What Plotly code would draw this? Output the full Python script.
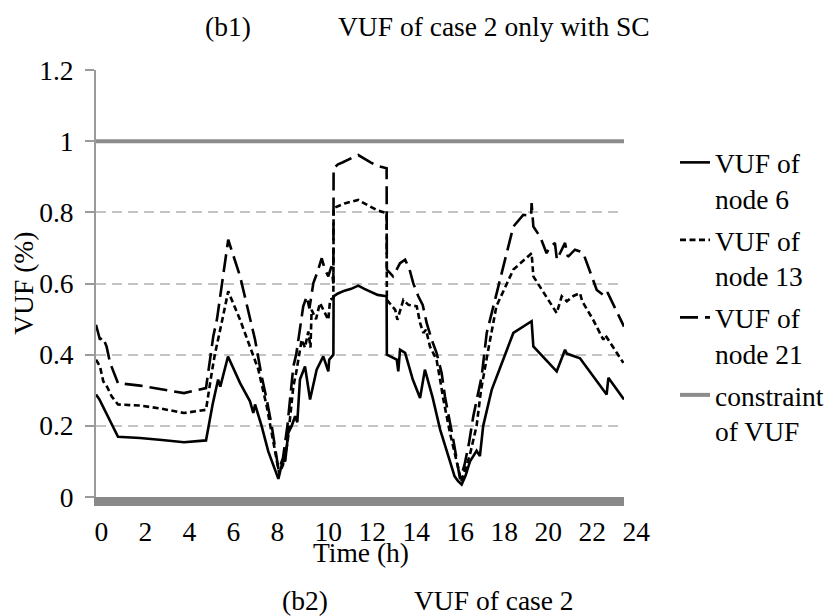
import plotly.graph_objects as go

# ---------------- data ----------------
node6_time = [0, 0.15, 1, 2, 3, 4, 5, 5.3, 5.55, 5.65, 6.0, 6.55, 7.0, 7.15, 7.23, 7.53, 7.83, 8.05,
              8.29, 8.4, 8.51, 8.6, 8.74, 8.89, 9.05, 9.15, 9.27, 9.5, 9.73, 10.03, 10.33, 10.56,
              10.6, 10.79, 10.8, 11.0, 11.3, 11.6, 11.92, 12.2, 12.5, 12.8, 13.21, 13.22, 13.67,
              13.74, 13.82, 14.05, 14.4, 14.73, 14.95, 15.3, 15.64, 15.9, 16.1, 16.3, 16.45, 16.62,
              16.8, 17.0, 17.3, 17.45, 17.6, 17.99, 18.97, 19.8, 19.88, 20.94, 21.32, 21.4, 22.0,
              23.21, 23.29, 24.0]
node6_vuf = [0.288, 0.275, 0.169, 0.166, 0.160, 0.154, 0.159, 0.26, 0.33, 0.31, 0.395, 0.32, 0.269,
             0.236, 0.26, 0.199, 0.128, 0.09, 0.051, 0.08, 0.105, 0.1, 0.18, 0.199, 0.227, 0.21,
             0.33, 0.367, 0.274, 0.358, 0.395, 0.353, 0.386, 0.4, 0.564, 0.572, 0.58, 0.585, 0.594,
             0.585, 0.576, 0.568, 0.564, 0.4, 0.386, 0.353, 0.414, 0.405, 0.33, 0.278, 0.358, 0.28,
             0.19, 0.14, 0.1, 0.058, 0.045, 0.035, 0.06, 0.1, 0.13, 0.115, 0.2, 0.302, 0.461, 0.494,
             0.423, 0.353, 0.414, 0.403, 0.39, 0.288, 0.335, 0.274]

node13_time = [0, 0.18, 0.33, 0.5, 0.71, 1, 2, 3, 4, 5, 5.26, 5.4, 5.71, 6.01, 6.55, 7.08, 7.38,
               7.76, 8.0, 8.2, 8.33, 8.5, 8.7, 8.97, 9.1, 9.35, 9.5, 9.65, 9.75, 9.8, 10.0, 10.18,
               10.4, 10.56, 10.64, 10.79, 10.8, 11.0, 11.3, 11.6, 11.92, 12.2, 12.5, 12.8, 13.21,
               13.22, 13.6, 13.7, 13.97, 14.2, 14.58, 14.73, 14.88, 15.0, 15.18, 15.48, 15.64,
               15.79, 16.09, 16.4, 16.6, 16.8, 17.0, 17.3, 17.5, 17.83, 18.2, 18.97, 19.8, 19.88,
               20.5, 20.94, 21.17, 21.4, 21.7, 22.0, 22.1, 22.6, 23.06, 23.15, 23.97]
node13_vuf = [0.386, 0.367, 0.325, 0.31, 0.283, 0.26, 0.257, 0.248, 0.236, 0.245, 0.349, 0.4, 0.489,
              0.578, 0.498, 0.405, 0.358, 0.255, 0.17, 0.1, 0.065, 0.09, 0.15, 0.311, 0.35, 0.442,
              0.42, 0.465, 0.42, 0.526, 0.5, 0.545, 0.52, 0.498, 0.554, 0.56, 0.812, 0.818, 0.825,
              0.83, 0.835, 0.825, 0.815, 0.805, 0.798, 0.554, 0.526, 0.498, 0.554, 0.54, 0.536,
              0.489, 0.461, 0.47, 0.423, 0.386, 0.33, 0.274, 0.18, 0.096, 0.045, 0.08, 0.12, 0.2,
              0.3, 0.414, 0.536, 0.639, 0.685, 0.62, 0.56, 0.517, 0.564, 0.55, 0.565, 0.573, 0.55,
              0.498, 0.442, 0.455, 0.377]

node21_time = [0, 0.18, 0.3, 0.48, 0.64, 0.8, 1, 2, 3, 4, 5, 5.18, 5.33, 5.5, 5.71, 6.01, 6.55,
               7.08, 7.23, 7.53, 7.76, 7.99, 8.15, 8.3, 8.5, 8.7, 8.97, 9.1, 9.42, 9.58, 9.7, 9.88,
               10.05, 10.26, 10.4, 10.56, 10.7, 10.79, 10.8, 11.0, 11.2, 11.5, 11.7, 11.92, 12.2,
               12.5, 12.8, 13.21, 13.22, 13.5, 13.82, 14.05, 14.25, 14.42, 14.65, 14.85, 15.03,
               15.26, 15.48, 15.71, 15.86, 16.24, 16.55, 16.75, 16.95, 17.15, 17.53, 17.76, 18.29,
               18.97, 19.42, 19.78, 19.8, 19.88, 20.2, 20.48, 20.6, 20.86, 20.95, 21.32, 21.45,
               21.77, 22.0, 22.15, 22.76, 23.14, 23.25, 24.0]
node21_vuf = [0.484, 0.442, 0.45, 0.423, 0.377, 0.35, 0.32, 0.313, 0.302, 0.292, 0.306, 0.386,
              0.451, 0.5, 0.587, 0.723, 0.62, 0.479, 0.442, 0.339, 0.274, 0.199, 0.13, 0.075, 0.11,
              0.2, 0.367, 0.4, 0.536, 0.564, 0.53, 0.601, 0.63, 0.671, 0.64, 0.62, 0.648, 0.6,
              0.924, 0.935, 0.94, 0.95, 0.955, 0.961, 0.95, 0.94, 0.93, 0.924, 0.639, 0.62, 0.657,
              0.667, 0.64, 0.601, 0.564, 0.54, 0.489, 0.442, 0.405, 0.349, 0.283, 0.161, 0.05,
              0.09, 0.15, 0.227, 0.339, 0.461, 0.592, 0.76, 0.793, 0.79, 0.826, 0.76, 0.73, 0.685,
              0.7, 0.714, 0.667, 0.714, 0.675, 0.695, 0.69, 0.685, 0.582, 0.564, 0.575, 0.479]

constraint_time = [0, 24]
constraint_vuf = [1.0, 1.0]

series_names = ["VUF of<br>node 6", "VUF of<br>node 13", "VUF of<br>node 21", "constraint<br>of VUF"]

x_tick_vals = list(range(0, 25, 2))
y_tick_vals = [0, 0.2, 0.4, 0.6, 0.8, 1.0, 1.2]
y_tick_text = ["0", "0.2", "0.4", "0.6", "0.8", "1", "1.2"]

# ---------------- layout constants ----------------
W, H = 829, 616
ML, MR, MT, MB = 96, 205, 70, 118.5
FONT = "Liberation Serif"
FS = 27.5
GRAY_AXIS = "#898989"
GRAY_CONSTRAINT = "#8c8c8c"
LW = 2.6


def px_x(p):
    return (p - ML) / (W - ML - MR)


def px_y(p):
    return (H - MB - p) / (H - MT - MB)


fig = go.Figure()
fig.add_trace(go.Scatter(x=node6_time, y=node6_vuf, mode="lines", name=series_names[0],
                         legendgroup="g1", line=dict(color="black", width=LW)))
fig.add_trace(go.Scatter(x=node13_time, y=node13_vuf, mode="lines", name=series_names[1],
                         legendgroup="g2", line=dict(color="black", width=LW, dash="6px,3.5px")))
fig.add_trace(go.Scatter(x=node21_time, y=node21_vuf, mode="lines", name=series_names[2],
                         legendgroup="g3", line=dict(color="black", width=LW, dash="18px,7px")))
fig.add_trace(go.Scatter(x=constraint_time, y=constraint_vuf, mode="lines", name=series_names[3],
                         legendgroup="g4", line=dict(color=GRAY_CONSTRAINT, width=4)))

annotations = [
    dict(text="(b1)", x=px_x(227.5), y=px_y(26.5), xanchor="center", yanchor="middle"),
    dict(text="VUF of case 2 only with SC", x=px_x(336), y=px_y(26.5), xanchor="left", yanchor="middle"),
    dict(text="Time (h)", x=px_x(360.5), y=px_y(553), xanchor="center", yanchor="middle"),
    dict(text="(b2)", x=px_x(304.7), y=px_y(601), xanchor="center", yanchor="middle"),
    dict(text="VUF of case 2", x=px_x(412), y=px_y(601), xanchor="left", yanchor="middle"),
    dict(text="VUF (%)", x=px_x(24), y=px_y(284), xanchor="center", yanchor="middle", textangle=-90),
]
for a in annotations:
    a.update(xref="paper", yref="paper", showarrow=False,
             font=dict(family=FONT, size=FS, color="black"))

fig.update_layout(
    width=W, height=H, autosize=False,
    margin=dict(l=ML, r=MR, t=MT, b=MB, pad=0, autoexpand=False),
    paper_bgcolor="white", plot_bgcolor="white",
    font=dict(family=FONT, size=FS, color="black"),
    showlegend=True,
    legend=dict(xref="container", yref="container", x=675 / W, y=1 - 138 / H,
                xanchor="left", yanchor="top", valign="top", tracegroupgap=3,
                bgcolor="rgba(0,0,0,0)", borderwidth=0,
                font=dict(family=FONT, size=FS, color="black")),
    annotations=annotations,
    xaxis=dict(range=[0, 24], tickvals=x_tick_vals, ticktext=[str(v) for v in x_tick_vals],
               showgrid=False, zeroline=False, showline=True, linecolor=GRAY_AXIS, linewidth=9,
               ticks="", ticklabelposition="outside right", ticklabelstandoff=2,
               ticklabelshift=-6, automargin=False,
               tickfont=dict(family=FONT, size=FS, color="black")),
    yaxis=dict(range=[0, 1.2], tickvals=y_tick_vals, ticktext=y_tick_text,
               showgrid=True, gridcolor="#c4c4c4", gridwidth=1.5, griddash="10px,6px",
               zeroline=False, showline=True, linecolor="#9a9a9a", linewidth=2,
               ticks="outside", ticklen=9, tickwidth=2, tickcolor="#9a9a9a",
               ticklabelstandoff=6, automargin=False,
               tickfont=dict(family=FONT, size=FS, color="black")),
)

fig.write_html("out.html", config={"displayModeBar": False},
               post_script="document.body.style.margin='0px';")
